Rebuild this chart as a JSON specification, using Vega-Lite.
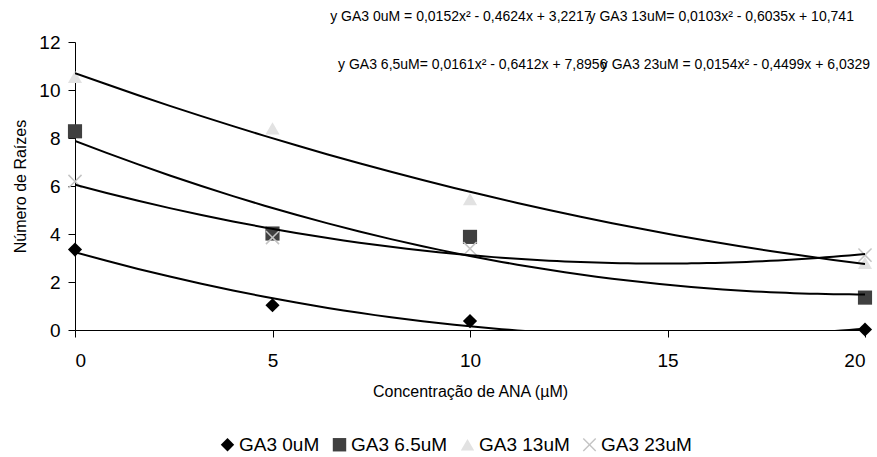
{
  "$schema": "https://vega.github.io/schema/vega-lite/v6.json",
  "autosize": "none",
  "width": 790,
  "height": 288,
  "padding": {"left": 75, "top": 42, "right": 12, "bottom": 127},
  "background": "white",
  "config": {
    "font": "Liberation Sans",
    "view": {"stroke": null},
    "axis": {"grid": false, "domainColor": "black", "tickColor": "black", "labelColor": "black", "titleColor": "black", "labelFont": "Liberation Sans", "titleFont": "Liberation Sans", "titleFontWeight": "normal"},
    "legend": {"labelFont": "Liberation Sans"}
  },
  "data": {
    "values": [
      {"series": "GA3 0uM", "x": 0, "y": 3.35},
      {"series": "GA3 0uM", "x": 5, "y": 1.03},
      {"series": "GA3 0uM", "x": 10, "y": 0.37},
      {"series": "GA3 0uM", "x": 20, "y": 0.02},
      {"series": "GA3 6.5uM", "x": 0, "y": 8.28},
      {"series": "GA3 6.5uM", "x": 5, "y": 4.02},
      {"series": "GA3 6.5uM", "x": 10, "y": 3.88},
      {"series": "GA3 6.5uM", "x": 20, "y": 1.35},
      {"series": "GA3 13uM", "x": 0, "y": 10.55},
      {"series": "GA3 13uM", "x": 5, "y": 8.4},
      {"series": "GA3 13uM", "x": 10, "y": 5.45},
      {"series": "GA3 13uM", "x": 20, "y": 2.8},
      {"series": "GA3 23uM", "x": 0, "y": 6.19},
      {"series": "GA3 23uM", "x": 5, "y": 3.85},
      {"series": "GA3 23uM", "x": 10, "y": 3.39},
      {"series": "GA3 23uM", "x": 20, "y": 3.12}
    ]
  },
  "layer": [
    {
      "mark": {"type": "point", "filled": true, "opacity": 1, "size": 200},
      "encoding": {
        "x": {"field": "x", "type": "quantitative", "scale": {"domain": [0, 20], "nice": false},
              "axis": {"values": [0, 5, 10, 15, 20], "title": "Concentração de ANA (µM)", "labelFontSize": 19, "titleFontSize": 16, "tickSize": 7, "labelPadding": 14, "titlePadding": 13}},
        "y": {"field": "y", "type": "quantitative", "scale": {"domain": [0, 12], "nice": false},
              "axis": {"values": [0, 2, 4, 6, 8, 10, 12], "title": "Número de Raízes", "labelFontSize": 19, "titleFontSize": 16, "tickSize": 7, "labelPadding": 8, "titlePadding": 10}},
        "color": {"field": "series", "type": "nominal",
                  "scale": {"domain": ["GA3 0uM", "GA3 6.5uM", "GA3 13uM", "GA3 23uM"], "range": ["#000000", "#404040", "#e2e2e2", "#c4c4c4"]},
                  "legend": {"orient": "none", "legendX": 143, "legendY": 393, "direction": "horizontal", "title": null, "labelFontSize": 19, "symbolSize": 180, "symbolStrokeWidth": 0, "labelOffset": 2, "columnPadding": 10}},
        "shape": {"field": "series", "type": "nominal",
                  "scale": {"domain": ["GA3 0uM", "GA3 6.5uM", "GA3 13uM", "GA3 23uM"], "range": ["diamond", "square", "triangle-up", "M-1,-0.85L-0.85,-1L0,-0.15L0.85,-1L1,-0.85L0.15,0L1,0.85L0.85,1L0,0.15L-0.85,1L-1,0.85L-0.15,0Z"]},
                  "legend": null}
      }
    },
    {
      "transform": [
        {"regression": "y", "on": "x", "groupby": ["series"], "method": "poly", "order": 2, "extent": [0, 20]}
      ],
      "mark": {"type": "line", "color": "black", "strokeWidth": 2, "clip": true},
      "encoding": {
        "x": {"field": "x", "type": "quantitative"},
        "y": {"field": "y", "type": "quantitative"},
        "detail": {"field": "series", "type": "nominal"}
      }
    },
    {
      "data": {"values": [{"label": "y GA3 0uM = 0,0152x² - 0,4624x + 3,2217"}]},
      "mark": {"type": "text", "align": "left", "baseline": "middle", "fontSize": 14, "font": "Liberation Sans", "color": "black"},
      "encoding": {"x": {"datum": 6.46}, "y": {"datum": 13.04}, "text": {"field": "label"}}
    },
    {
      "data": {"values": [{"label": "y GA3 13uM= 0,0103x² - 0,6035x + 10,741"}]},
      "mark": {"type": "text", "align": "right", "baseline": "middle", "fontSize": 14, "font": "Liberation Sans", "color": "black"},
      "encoding": {"x": {"datum": 19.72}, "y": {"datum": 13.04}, "text": {"field": "label"}}
    },
    {
      "data": {"values": [{"label": "y GA3 6,5uM= 0,0161x² - 0,6412x + 7,8956"}]},
      "mark": {"type": "text", "align": "left", "baseline": "middle", "fontSize": 14, "font": "Liberation Sans", "color": "black"},
      "encoding": {"x": {"datum": 6.66}, "y": {"datum": 11.05}, "text": {"field": "label"}}
    },
    {
      "data": {"values": [{"label": "y GA3 23uM = 0,0154x² - 0,4499x + 6,0329"}]},
      "mark": {"type": "text", "align": "right", "baseline": "middle", "fontSize": 14, "font": "Liberation Sans", "color": "black"},
      "encoding": {"x": {"datum": 20.13}, "y": {"datum": 11.05}, "text": {"field": "label"}}
    }
  ]
}
